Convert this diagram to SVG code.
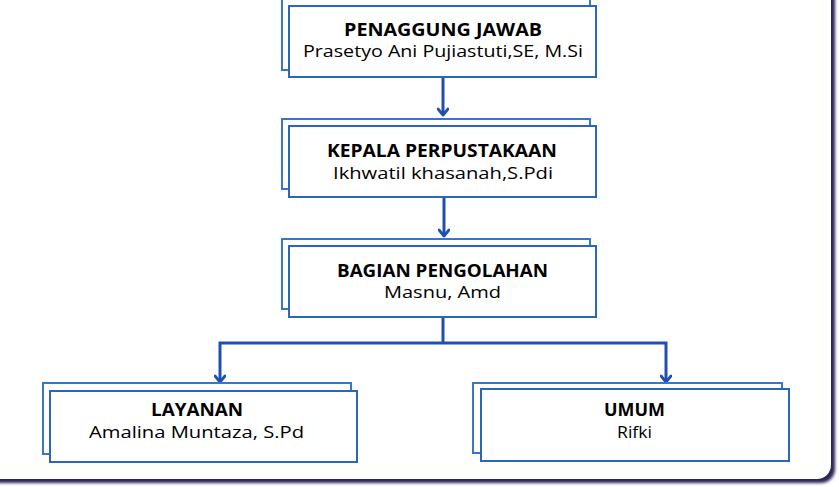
<svg xmlns="http://www.w3.org/2000/svg" width="839" height="487" viewBox="0 0 839 487">
<defs>
<filter id="sh" x="-5%" y="-5%" width="115%" height="115%">
<feGaussianBlur stdDeviation="1.5"/>
</filter>
<marker id="arr" viewBox="0 0 12 12" refX="9" refY="6" markerWidth="12" markerHeight="12" markerUnits="userSpaceOnUse" orient="auto-start-reverse">
<path d="M3,1 L9,6 L3,11" fill="none" stroke="#1d50b0" stroke-width="2.8" stroke-linecap="round" stroke-linejoin="round"/>
</marker>
<style>
.back{fill:#fff;stroke:#3a76c6;stroke-width:2}
.front{fill:#fff;stroke:#2a66c0;stroke-width:2}
.t{font-family:"Open Sans","Liberation Sans",sans-serif;font-size:17px;font-weight:700;fill:#000;text-anchor:middle}
.s{font-family:"Open Sans","Liberation Sans",sans-serif;font-size:17px;font-weight:400;fill:#000;text-anchor:middle}
.c{fill:none;stroke:#1d50b0;stroke-width:3}
</style>
</defs>
<rect x="0" y="0" width="839" height="487" fill="#ffffff"/>
<rect x="-14" y="-14" width="849" height="497" rx="14" fill="#2b2656" filter="url(#sh)"/>
<rect x="-18" y="-18" width="849" height="497" rx="14" fill="#ffffff"/>

<g id="connectors">
<line class="c" x1="443" y1="77" x2="443" y2="115" marker-end="url(#arr)"/>
<line class="c" x1="444" y1="197" x2="444" y2="236" marker-end="url(#arr)"/>
<polyline class="c" points="443,317 443,343"/>
<polyline class="c" points="220,382 220,343 666,343 666,382" marker-start="url(#arr)" marker-end="url(#arr)"/>
</g>

<g id="penanggung-jawab">
<rect class="back" x="282" y="-2" width="308" height="72"/>
<rect class="front" x="289" y="6" width="307" height="71"/>
<text class="t" x="443" y="36" textLength="198" lengthAdjust="spacingAndGlyphs">PENAGGUNG JAWAB</text>
<text class="s" x="443" y="57" textLength="280" lengthAdjust="spacingAndGlyphs">Prasetyo Ani Pujiastuti,SE, M.Si</text>
</g>

<g id="kepala-perpustakaan">
<rect class="back" x="282" y="119" width="308" height="70"/>
<rect class="front" x="289" y="126" width="307" height="71"/>
<text class="t" x="442" y="157" textLength="230" lengthAdjust="spacingAndGlyphs">KEPALA PERPUSTAKAAN</text>
<text class="s" x="443" y="179" textLength="220" lengthAdjust="spacingAndGlyphs">Ikhwatil khasanah,S.Pdi</text>
</g>

<g id="bagian-pengolahan">
<rect class="back" x="282" y="239" width="308" height="70"/>
<rect class="front" x="289" y="246" width="307" height="71"/>
<text class="t" x="442.5" y="277" textLength="211" lengthAdjust="spacingAndGlyphs">BAGIAN PENGOLAHAN</text>
<text class="s" x="442.5" y="298" textLength="117" lengthAdjust="spacingAndGlyphs">Masnu, Amd</text>
</g>

<g id="layanan">
<rect class="back" x="43" y="383" width="308" height="71"/>
<rect class="front" x="50" y="391" width="307" height="71"/>
<text class="t" x="197" y="416" textLength="92" lengthAdjust="spacingAndGlyphs">LAYANAN</text>
<text class="s" x="196.5" y="438" textLength="215" lengthAdjust="spacingAndGlyphs">Amalina Muntaza, S.Pd</text>
</g>

<g id="umum">
<rect class="back" x="473" y="383" width="309" height="70"/>
<rect class="front" x="481" y="389" width="308" height="72"/>
<text class="t" x="634.5" y="416" textLength="61" lengthAdjust="spacingAndGlyphs">UMUM</text>
<text class="s" x="634.5" y="438" textLength="35" lengthAdjust="spacingAndGlyphs">Rifki</text>
</g>
</svg>
